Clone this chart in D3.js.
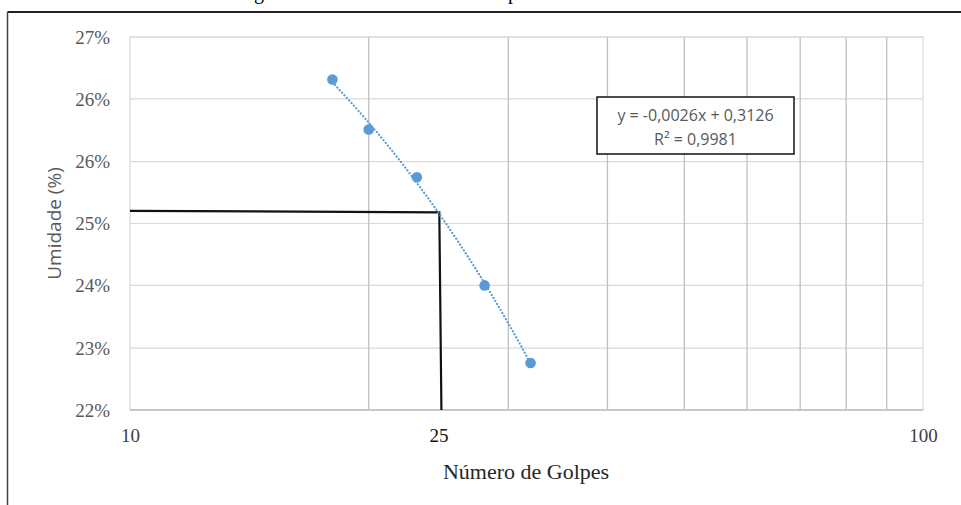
<!DOCTYPE html>
<html>
<head>
<meta charset="utf-8">
<script src="https://cdn.jsdelivr.net/npm/d3@7"></script>
<style>
body{margin:0;background:#fff;}
</style>
</head>
<body>
<div class="box"></div>
<script>
// data
const golpes=[18,20,23,28,32];
const umidade=[0.2668,0.2601,0.2537,0.2392,0.2288];
const yTicks=[0.2225,0.2308,0.2392,0.2475,0.2558,0.2642,0.2725];
const xGrid=[20,30,40,50,60,70,80,90];
const xTicks=[10,24.5,100];
const xTickLabels=['10','25','100'];
const refX=[10,24.55,24.7];
const refY=[0.2492,0.2490,0.2225];
const eqLines=['y = -0,0026x + 0,3126','R² = 0,9981'];

const W=961,H=505;
const margin={top:37,right:38,bottom:95,left:130};
const graphW=W-margin.left-margin.right;
const graphH=H-margin.top-margin.bottom;

const svg=d3.select('.box').append('svg').attr('width',W).attr('height',H).style('display','block').style('background','white');

// frame of the figure (only top and left edges show)
svg.append('line').attr('x1',7.5).attr('x2',W).attr('y1',12).attr('y2',12).attr('stroke','#222').attr('stroke-width',2);
svg.append('line').attr('x1',7.5).attr('x2',7.5).attr('y1',12).attr('y2',H).attr('stroke','#444').attr('stroke-width',1.5);
// cut-off title descenders
svg.append('text').attr('x',259).attr('y',-1).text('g').style('font-family','Liberation Serif').style('font-size','20px').attr('text-anchor','middle');
svg.append('text').attr('x',513).attr('y',-1).text('p').style('font-family','Liberation Serif').style('font-size','20px').attr('text-anchor','middle');

const g=svg.append('g').attr('transform',`translate(${margin.left},${margin.top})`);

const x=d3.scaleLog().domain([10,100]).range([0,graphW]);
const y=d3.scaleLinear().domain([yTicks[0],yTicks[yTicks.length-1]]).range([graphH,0]);

// horizontal grid
g.selectAll('.hgrid').data(yTicks).enter().append('line').attr('class','hgrid')
  .attr('x1',0).attr('x2',graphW).attr('y1',d=>y(d)).attr('y2',d=>y(d))
  .attr('stroke','#d9d9d9').attr('stroke-width',1.2);
// vertical grid (log minor)
g.selectAll('.vgrid').data(xGrid).enter().append('line').attr('class','vgrid')
  .attr('x1',d=>x(d)).attr('x2',d=>x(d)).attr('y1',0).attr('y2',graphH)
  .attr('stroke','#bfbfbf').attr('stroke-width',1.3);
g.append('rect').attr('x',0).attr('y',0).attr('width',graphW).attr('height',graphH)
  .attr('fill','none').attr('stroke','#d9d9d9').attr('stroke-width',1.2);
g.append('line').attr('x1',0).attr('x2',graphW).attr('y1',graphH).attr('y2',graphH).attr('stroke','#bfbfbf').attr('stroke-width',1.3);

// y axis labels
const axeY=d3.axisLeft(y).tickValues(yTicks).tickFormat(d3.format('.0%')).tickSize(0).tickPadding(20);
const gY=g.append('g').call(axeY);
gY.select('.domain').remove();
gY.selectAll('text').style('font-family','Liberation Serif').style('font-size','19px').attr('fill','#595959');

// x axis labels
const axeX=d3.axisBottom(x).tickValues(xTicks).tickFormat((d,i)=>xTickLabels[i]).tickSize(0).tickPadding(19);
const gX=g.append('g').attr('transform',`translate(0,${graphH})`).call(axeX);
gX.select('.domain').remove();
gX.selectAll('text').style('font-family','Liberation Serif').style('font-size','19px').attr('fill',(d,i)=>i==1?'#111':'#404040');

// axis titles
svg.append('text').attr('transform',`translate(61,${margin.top+graphH/2}) rotate(-90)`)
  .attr('text-anchor','middle').text('Umidade (%)')
  .style('font-family','Open Sans').style('font-size','19px').attr('fill','#595959');
svg.append('text').attr('x',526).attr('y',479).attr('text-anchor','middle').text('Número de Golpes')
  .style('font-family','Liberation Serif').style('font-size','22px').attr('fill','#262626');

// reference lines at 25 golpes
const refPts=refX.map((v,i)=>[v,refY[i]]);
g.append('path').datum(refPts)
  .attr('d',d3.line().x(d=>x(d[0])).y(d=>y(d[1])))
  .attr('fill','none').attr('stroke','#111').attr('stroke-width',2.2);

// linear trend line (least squares on the points, drawn on log axis)
const mx=d3.mean(golpes),my=d3.mean(umidade);
const b=d3.sum(golpes,(v,i)=>(v-mx)*(umidade[i]-my))/d3.sum(golpes,v=>(v-mx)*(v-mx));
const a=my-b*mx;
const tx=d3.range(golpes[0],golpes[golpes.length-1]+0.01,0.25);
g.append('path').datum(tx)
  .attr('d',d3.line().x(d=>x(d)).y(d=>y(a+b*d)))
  .attr('fill','none').attr('stroke','#5b9bd5').attr('stroke-width',2.2)
  .attr('stroke-dasharray','0.1 3.4').attr('stroke-linecap','round');

// points
g.selectAll('circle').data(golpes).enter().append('circle')
  .attr('cx',d=>x(d)).attr('cy',(d,i)=>y(umidade[i])).attr('r',5.3)
  .attr('fill','#5b9bd5');

// equation box
const eq=svg.append('g').attr('transform','translate(597,97)');
eq.append('rect').attr('x',0).attr('y',0).attr('width',197).attr('height',57)
  .attr('fill','white').attr('stroke','#111').attr('stroke-width',1.5);
eq.selectAll('text').data(eqLines).enter().append('text')
  .attr('x',98.5).attr('y',(d,i)=>24+i*24).attr('text-anchor','middle').text(d=>d)
  .style('font-family','Open Sans').style('font-size','16px').attr('fill','#595959');
</script>
</body>
</html>
